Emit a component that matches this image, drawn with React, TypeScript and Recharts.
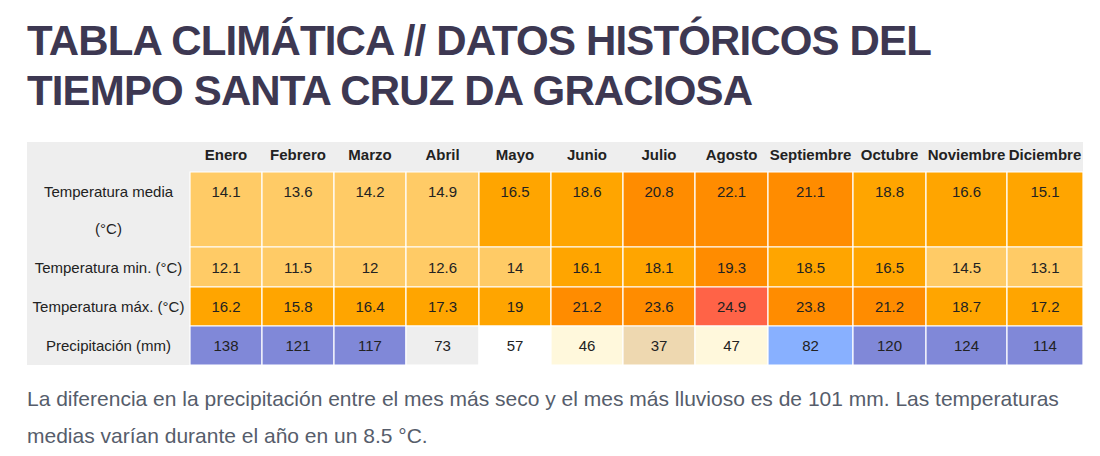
import React from 'react';
import { ComposedChart, XAxis, YAxis, ReferenceArea } from 'recharts';

// ---- data ----
const months = ['Enero', 'Febrero', 'Marzo', 'Abril', 'Mayo', 'Junio', 'Julio', 'Agosto', 'Septiembre', 'Octubre', 'Noviembre', 'Diciembre'];
const rowLabels = [['Temperatura media', '(°C)'], ['Temperatura min. (°C)'], ['Temperatura máx. (°C)'], ['Precipitación (mm)']];
const tempMedia = [14.1, 13.6, 14.2, 14.9, 16.5, 18.6, 20.8, 22.1, 21.1, 18.8, 16.6, 15.1];
const tempMin = [12.1, 11.5, 12, 12.6, 14, 16.1, 18.1, 19.3, 18.5, 16.5, 14.5, 13.1];
const tempMax = [16.2, 15.8, 16.4, 17.3, 19, 21.2, 23.6, 24.9, 23.8, 21.2, 18.7, 17.2];
const precip = [138, 121, 117, 73, 57, 46, 37, 47, 82, 120, 124, 114];

const titleLines = ['TABLA CLIMÁTICA // DATOS HISTÓRICOS DEL', 'TIEMPO SANTA CRUZ DA GRACIOSA'];
const noteLines = [
  'La diferencia en la precipitación entre el mes más seco y el mes más lluvioso es de 101 mm. Las temperaturas',
  'medias varían durante el año en un 8.5 °C.',
];

// ---- layout (pixel grid of the table) ----
const W = 1100;
const H = 456;
const colEdges = [27, 190, 262, 334, 406, 479, 551, 623, 695, 768, 853, 926, 1007, 1083];
const rowEdges = [142, 172, 247, 287, 326, 365];
const FONT = 'Arial, "Liberation Sans", sans-serif';

const tempColor = (v: number) => (v < 15 ? '#ffcb66' : v <= 19 ? '#ffa500' : v < 24 ? '#ff8c00' : '#ff6347');
const precipColor = (v: number) =>
  v >= 100 ? '#8088d8' : v >= 75 ? '#88b0ff' : v >= 60 ? '#eeeeee' : v >= 50 ? '#ffffff' : v >= 40 ? '#fff8dc' : '#eed8b0';

const rows = [
  { values: tempMedia, color: tempColor, top: true },
  { values: tempMin, color: tempColor, top: false },
  { values: tempMax, color: tempColor, top: false },
  { values: precip, color: precipColor, top: false },
];

const makeLabel = (lines: string[], opts: { bold?: boolean; top?: boolean }) => (props: any) => {
  const vb = props.viewBox || {};
  const cx = vb.x + vb.width / 2;
  const firstY = opts.top ? vb.y + 19 : vb.y + vb.height / 2;
  return (
    <g>
      {lines.map((t, i) => (
        <text
          key={i}
          x={cx}
          y={firstY + i * 37}
          textAnchor="middle"
          dominantBaseline="central"
          fontFamily={FONT}
          fontSize={15}
          fontWeight={opts.bold ? 700 : 400}
          fill="#222222"
        >
          {t}
        </text>
      ))}
    </g>
  );
};

export default function App() {
  const chartData = months.map((m, i) => ({ m, i }));
  return (
    <div style={{ position: 'absolute', left: 0, top: 0, width: W, height: H, background: '#ffffff' }}>
      <ComposedChart width={W} height={H} data={chartData} margin={{ top: 0, right: 0, bottom: 0, left: 0 }}>
        <XAxis type="number" dataKey="i" domain={[0, W]} hide allowDataOverflow />
        <YAxis type="number" domain={[0, H]} reversed hide allowDataOverflow />
        {/* header background */}
        <ReferenceArea x1={colEdges[0]} x2={colEdges[colEdges.length - 1]} y1={rowEdges[0]} y2={rowEdges[1]} fill="#eeeeee" fillOpacity={1} stroke="none" ifOverflow="visible" />
        {/* row label column background */}
        <ReferenceArea x1={colEdges[0]} x2={colEdges[1]} y1={rowEdges[0]} y2={rowEdges[rowEdges.length - 1]} fill="#eeeeee" fillOpacity={1} stroke="none" ifOverflow="visible" />
        {months.map((m, i) => (
          <ReferenceArea
            key={'h' + m}
            x1={colEdges[i + 1]}
            x2={colEdges[i + 2]}
            y1={rowEdges[0]}
            y2={rowEdges[1] - 6}
            fill="#eeeeee"
            fillOpacity={0}
            stroke="none"
            ifOverflow="visible"
            label={makeLabel([m], { bold: true })}
          />
        ))}
        {rowLabels.map((lines, r) => (
          <ReferenceArea
            key={'rl' + r}
            x1={colEdges[0]}
            x2={colEdges[1]}
            y1={rowEdges[r + 1]}
            y2={rowEdges[r + 2]}
            fill="#eeeeee"
            fillOpacity={0}
            stroke="none"
            ifOverflow="visible"
            label={makeLabel(lines, { top: r === 0 })}
          />
        ))}
        {rows.map((row, r) =>
          row.values.map((v, i) => (
            <ReferenceArea
              key={'c' + r + '-' + i}
              x1={colEdges[i + 1]}
              x2={colEdges[i + 2]}
              y1={rowEdges[r + 1]}
              y2={rowEdges[r + 2]}
              fill={row.color(v)}
              fillOpacity={1}
              stroke="#ffffff"
              strokeWidth={1.2}
              ifOverflow="visible"
              label={makeLabel([String(v)], { top: row.top })}
            />
          ))
        )}
      </ComposedChart>
      <svg width={W} height={H} style={{ position: 'absolute', left: 0, top: 0, pointerEvents: 'none' }}>
        {titleLines.map((t, i) => (
          <text key={t} x={27} y={55 + i * 50} fontFamily={FONT} fontSize={42} fontWeight={700} letterSpacing={-0.85} fill="#3d3852">
            {t}
          </text>
        ))}
        {noteLines.map((t, i) => (
          <text key={t} x={27} y={406 + i * 37} fontFamily={FONT} fontSize={21} fill="#565d6b">
            {t}
          </text>
        ))}
      </svg>
    </div>
  );
}
